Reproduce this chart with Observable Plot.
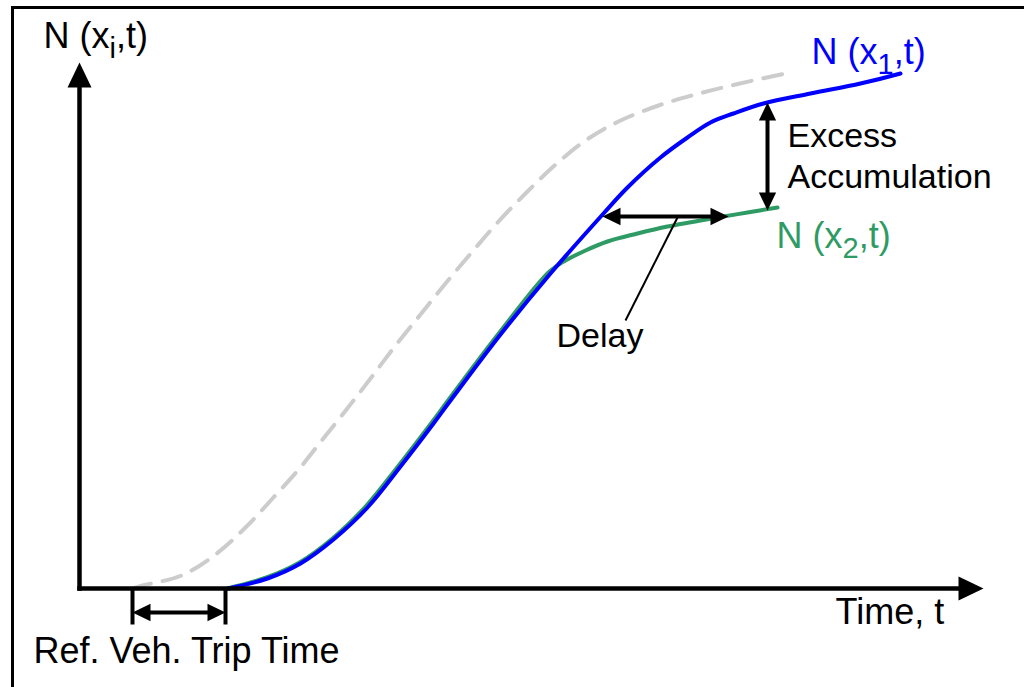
<!DOCTYPE html>
<html><head><meta charset="utf-8">
<script src="https://cdn.jsdelivr.net/npm/d3@7"></script>
<script src="https://cdn.jsdelivr.net/npm/@observablehq/plot@0.6"></script>
<style>
html,body{margin:0;padding:0;background:#fff;}
#chart svg{display:block;}
</style></head><body><div id="chart"></div>
<script>
// ---------- data (time t, cumulative count N, arbitrary units) ----------
// Reference vehicle curve (dashed gray), shifted by the reference trip time
const refT = [5.3, 6.3, 10.2, 13.6, 16.6, 19.3, 22.0, 24.3, 26.7, 29.1, 31.6, 34.1, 36.6, 39.3, 41.9, 44.7, 47.5, 50.6, 53.9, 57.9, 61.6, 65.6, 70.6];
const refN = [0, 0.3, 1.3, 3.4, 6.1, 9.0, 12.0, 14.9, 17.9, 21.0, 24.3, 27.4, 30.5, 33.7, 36.7, 39.6, 42.3, 44.8, 46.7, 48.3, 49.4, 50.4, 51.5];
// N(x1,t) (blue)
const x1T = [14.9, 18.8, 22.1, 25.4, 28.8, 32.1, 35.4, 37.1, 42.1, 47.1, 52.4, 54.8, 58.1, 60.8, 63.1, 65.4, 68.4, 73.1, 78.1, 82.1];
const x1N = [0, 1.0, 2.5, 4.9, 8.1, 12.2, 16.5, 18.8, 25.4, 31.5, 37.5, 40.1, 43.1, 45.1, 46.6, 47.5, 48.5, 49.5, 50.5, 51.5];
// N(x2,t) (green)
const x2T = [14.8, 18.7, 22.0, 25.3, 28.7, 32.0, 35.3, 37.0, 42.0, 47.0, 48.6, 50.6, 52.8, 55.8, 58.8, 63.8, 66.8, 69.8];
const x2N = [0, 1.1, 2.6, 5.0, 8.3, 12.4, 16.7, 19.0, 25.6, 31.7, 32.8, 33.8, 34.7, 35.5, 36.2, 37.1, 37.6, 38.1];

// axis extents (arrow tips)
const axisTipT = 90.4;
const axisTipN = 52.6;
// reference vehicle trip time
const tripTimes = [5.3, 14.6];
const tripTickLow = -3.6;
const tripArrowN = -2.4;
// delay (horizontal) and excess accumulation (vertical)
const delayT = [52.3, 64.9];
const delayN = 37.2;
const delayLeaderT = [59.8, 54.6];
const delayLeaderN = [37.1, 26.8];
const excessT = 68.8;
const excessN = [48.6, 37.8];

// text labels: axis / curve labels
const mainText = ["N (x_i,t)", "N (x_1,t)", "N (x_2,t)", "Time, t", "Ref. Veh. Trip Time"];
const mainT = [-3.6, 73.2, 69.7, 75.6, -4.6];
const mainN = [54.1, 52.5, 34.1, -3.5, -7.4];
const mainColor = ["#000", "#0000ff", "#2e9a64", "#000", "#000"];
// annotation labels
const noteText = ["Excess\nAccumulation", "Delay"];
const noteT = [70.8, 47.7];
const noteN = [40.1, 24.2];

// ---------- layout ----------
const W = 1024, H = 687, mL = 12, mT = 7;
const tDomain = [-6.7, 94.5], nDomain = [-9.9, 58.1];
const kx = (W - mL) / (tDomain[1] - tDomain[0]);
const ky = (H - mT) / (nDomain[1] - nDomain[0]);

const BLUE = "#0000ff", GREEN = "#2e9a64", GRAY = "#cccccc";

const refData = refT.map((t, i) => ({t, n: refN[i]}));
const x1Data = x1T.map((t, i) => ({t, n: x1N[i]}));
const x2Data = x2T.map((t, i) => ({t, n: x2N[i]}));
const mainLabels = mainText.map((text, i) => ({text, t: mainT[i], n: mainN[i], color: mainColor[i]}));
const noteLabels = noteText.map((text, i) => ({text, t: noteT[i], n: noteN[i]}));

// filled arrowhead symbol: tip at origin, pointing up
const headSym = {draw(ctx, size) {
  const r = Math.sqrt(size / Math.PI);
  ctx.moveTo(0, 0); ctx.lineTo(-0.96 * r, 2 * r); ctx.lineTo(0.96 * r, 2 * r); ctx.closePath();
}};
const bigR = 12.5, smallR = 9;

const heads = [
  {t: 0, n: axisTipN, rot: 0, r: bigR},
  {t: axisTipT, n: 0, rot: 90, r: bigR},
  {t: tripTimes[0], n: tripArrowN, rot: -90, r: smallR},
  {t: tripTimes[1], n: tripArrowN, rot: 90, r: smallR},
  {t: delayT[0], n: delayN, rot: -90, r: smallR},
  {t: delayT[1], n: delayN, rot: 90, r: smallR},
  {t: excessT, n: excessN[0], rot: 0, r: smallR},
  {t: excessT, n: excessN[1], rot: 180, r: smallR}
];
const axes = [
  {t1: 0, n1: 0, t2: 0, n2: axisTipN - bigR / ky},
  {t1: 0, n1: 0, t2: axisTipT - bigR / kx, n2: 0}
];
const shafts = [
  {t1: tripTimes[0] + smallR / kx, n1: tripArrowN, t2: tripTimes[1] - smallR / kx, n2: tripArrowN},
  {t1: delayT[0] + smallR / kx, n1: delayN, t2: delayT[1] - smallR / kx, n2: delayN},
  {t1: excessT, n1: excessN[0] - smallR / ky, t2: excessT, n2: excessN[1] + smallR / ky}
];
const ticks = tripTimes.map(t => ({t1: t, n1: 0, t2: t, n2: tripTickLow}));
const leader = [{t1: delayLeaderT[0], n1: delayLeaderN[0], t2: delayLeaderT[1], n2: delayLeaderN[1]}];

const FONT = "'Liberation Sans', Arial, Helvetica, sans-serif";

const svg = Plot.plot({
  width: W, height: H,
  marginLeft: mL, marginTop: mT, marginRight: 0, marginBottom: 0,
  x: {domain: tDomain, axis: null},
  y: {domain: nDomain, axis: null},
  r: {type: "identity"},
  style: {background: "#fff", fontFamily: FONT, overflow: "visible"},
  marks: [
    Plot.frame({anchor: "top", stroke: "#000", strokeWidth: 3}),
    Plot.frame({anchor: "left", stroke: "#000", strokeWidth: 3}),
    Plot.line(refData, {x: "t", y: "n", stroke: GRAY, strokeWidth: 4, strokeDasharray: "19,12", curve: "catmull-rom"}),
    Plot.line(x2Data, {x: "t", y: "n", stroke: GREEN, strokeWidth: 4, curve: "catmull-rom"}),
    Plot.line(x1Data, {x: "t", y: "n", stroke: BLUE, strokeWidth: 4, curve: "catmull-rom"}),
    Plot.link(axes, {x1: "t1", y1: "n1", x2: "t2", y2: "n2", stroke: "#000", strokeWidth: 4.5, strokeLinecap: "square"}),
    Plot.link(ticks, {x1: "t1", y1: "n1", x2: "t2", y2: "n2", stroke: "#000", strokeWidth: 4}),
    Plot.link(shafts, {x1: "t1", y1: "n1", x2: "t2", y2: "n2", stroke: "#000", strokeWidth: 4}),
    Plot.link(leader, {x1: "t1", y1: "n1", x2: "t2", y2: "n2", stroke: "#000", strokeWidth: 2}),
    Plot.dot(heads, {x: "t", y: "n", r: "r", rotate: "rot", symbol: headSym, fill: "#000", stroke: "none"}),
    Plot.text(mainLabels, {x: "t", y: "n", text: "text", fill: "color", textAnchor: "start", lineAnchor: "bottom",
      fontSize: 36, fontFamily: FONT}),
    Plot.text(noteLabels, {x: "t", y: "n", text: "text", fill: "#000", textAnchor: "start", lineAnchor: "bottom",
      fontSize: 34, lineHeight: 1.18, fontFamily: FONT})
  ]
});
document.getElementById("chart").appendChild(svg);

// subscripts: "x_i" -> x with subscript i
svg.querySelectorAll("text").forEach(el => {
  const s = el.textContent;
  const m = s.match(/^(.*)_(.)(.*)$/);
  if (!m) return;
  el.textContent = "";
  const ns = "http://www.w3.org/2000/svg";
  const a = document.createElementNS(ns, "tspan"); a.textContent = m[1];
  const b = document.createElementNS(ns, "tspan"); b.textContent = m[2];
  b.setAttribute("font-size", "29"); b.setAttribute("dy", "10");
  const c = document.createElementNS(ns, "tspan"); c.textContent = m[3];
  c.setAttribute("dy", "-10");
  el.append(a, b, c);
});
</script></body></html>
